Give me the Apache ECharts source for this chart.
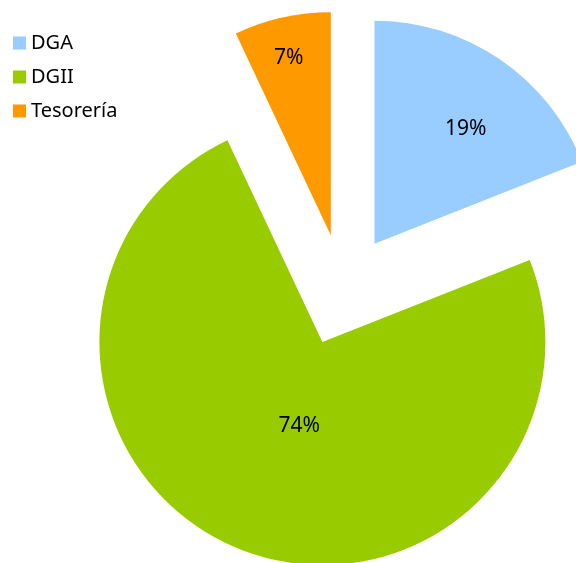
<!DOCTYPE html>
<html>
<head>
<meta charset="utf-8">
<script src="https://cdn.jsdelivr.net/npm/echarts@6/dist/echarts.min.js"></script>
<style>
  html, body { margin: 0; padding: 0; background: #fff; }
  #chart { width: 576px; height: 563px; }
</style>
</head>
<body>
<div id="chart"></div>
<script>
const categories = ['DGA', 'DGII', 'Tesorería'];
const values = [19, 74, 7];
const colors = ['#99CCFF', '#99CC00', '#FF9900'];
// label nudges from the default inside spot
const labelShift = [[27, -20], [19, -23], [-17, -66]];

const chart = echarts.init(document.getElementById('chart'));

const option = {
  animation: false,
  legend: {
    orient: 'vertical',
    left: 13,
    top: 33,
    padding: 0,
    itemWidth: 13,
    itemHeight: 13,
    itemGap: 14,
    itemTextGap: 7,
    icon: 'rect',
    selectedMode: false,
    textStyle: {
      color: '#000',
      fontSize: 20,
      fontFamily: 'Noto Sans'
    },
    data: categories
  },
  series: [
    {
      type: 'pie',
      center: [343, 290],
      radius: 223,
      startAngle: 90,
      clockwise: true,
      selectedMode: 'multiple',
      selectedOffset: 56,
      emphasis: { disabled: true },
      label: {
        show: true,
        position: 'inside',
        formatter: '{c}%',
        color: '#000',
        fontSize: 21,
        fontFamily: 'Noto Sans'
      },
      labelLayout: function (params) {
        const s = labelShift[params.dataIndex];
        return { dx: s[0], dy: s[1] };
      },
      data: categories.map((name, i) => ({
        name: name,
        value: values[i],
        selected: true,
        itemStyle: { color: colors[i] }
      }))
    }
  ]
};
chart.setOption(option);
</script>
</body>
</html>
